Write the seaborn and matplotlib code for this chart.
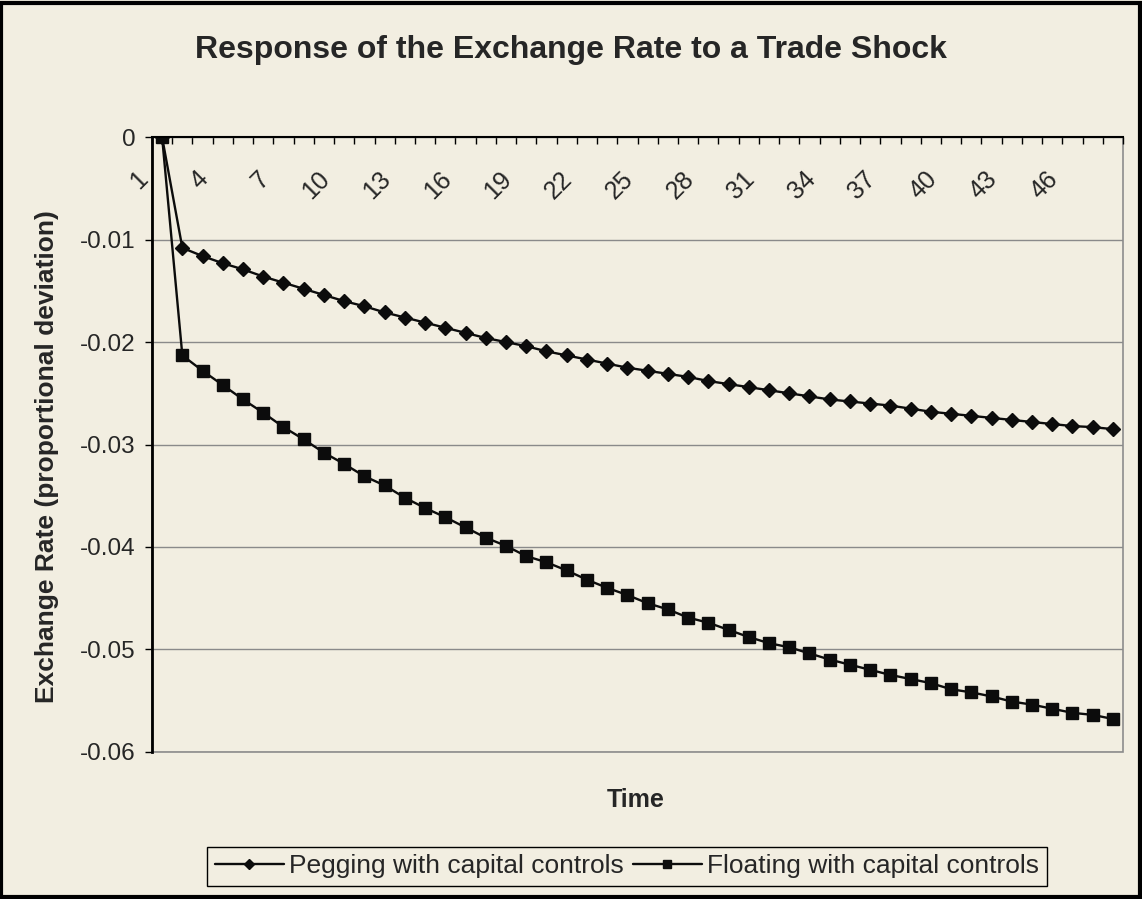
import matplotlib.pyplot as plt
import matplotlib.transforms as mtransforms
import numpy as np
import seaborn as sns
from matplotlib.lines import Line2D
from matplotlib.patches import Rectangle

# Values (proportional deviation per period)
periods = list(range(1, 49))
pegging = [
    0.0, -0.0108, -0.0116, -0.0123, -0.0129, -0.0136, -0.0142, -0.0148,
    -0.0154, -0.0160, -0.0165, -0.0171, -0.0176, -0.0181, -0.0186, -0.0191,
    -0.0196, -0.0200, -0.0204, -0.0209, -0.0213, -0.0217, -0.0221, -0.0225,
    -0.0228, -0.0231, -0.0234, -0.0238, -0.0241, -0.0244, -0.0247, -0.0250,
    -0.0253, -0.0256, -0.0258, -0.0260, -0.0262, -0.0265, -0.0268, -0.0270,
    -0.0272, -0.0274, -0.0276, -0.0278, -0.0280, -0.0282, -0.0283, -0.0285,
]
floating = [
    0.0, -0.0213, -0.0228, -0.0242, -0.0256, -0.0269, -0.0283, -0.0295,
    -0.0308, -0.0319, -0.0331, -0.0340, -0.0352, -0.0362, -0.0371, -0.0381,
    -0.0391, -0.0399, -0.0409, -0.0415, -0.0423, -0.0432, -0.0440, -0.0447,
    -0.0455, -0.0461, -0.0469, -0.0474, -0.0481, -0.0488, -0.0494, -0.0498,
    -0.0504, -0.0510, -0.0515, -0.0520, -0.0525, -0.0529, -0.0533, -0.0539,
    -0.0542, -0.0546, -0.0551, -0.0554, -0.0558, -0.0562, -0.0564, -0.0568,
]
series_names = ["Pegging with capital controls", "Floating with capital controls"]
series_markers = ["D", "s"]
x_tick_positions = list(range(1, 47, 3))
x_tick_labels = [str(p) for p in x_tick_positions]
y_ticks = [0.0, -0.01, -0.02, -0.03, -0.04, -0.05, -0.06]
y_tick_labels = ["0", "-0.01", "-0.02", "-0.03", "-0.04", "-0.05", "-0.06"]

BG = "#F2EEE1"
INK = "#0c0c0c"

sns.set_style("white")
plt.rcParams["font.family"] = ["Liberation Sans", "DejaVu Sans"]

fig = plt.figure(figsize=(11.42, 8.99), dpi=100, facecolor=BG)
ax = fig.add_axes([0.1331, 0.1638, 0.8503, 0.6835])
ax.set_facecolor(BG)

# Plot both series
sns.lineplot(
    x=periods, y=pegging, marker=series_markers[0], markersize=7.5, color=INK,
    markeredgecolor=INK, markeredgewidth=1, linewidth=1.7, legend=False,
    ax=ax,
)
sns.lineplot(
    x=periods, y=floating, marker=series_markers[1], markersize=8.5, color=INK,
    markeredgecolor=INK, markeredgewidth=1, linewidth=1.7, legend=False,
    ax=ax,
)

ax.set_xlim(0.5, 48.5)
ax.set_ylim(-0.06, 0)

# Category axis sits at y = 0, i.e. along the top of the plot area
ax.spines["bottom"].set_position(("data", 0))
ax.spines["bottom"].set_color("black")
ax.spines["bottom"].set_linewidth(1.5)
ax.spines["left"].set_color("black")
ax.spines["left"].set_linewidth(2)
ax.spines["top"].set_visible(False)
ax.spines["right"].set_visible(False)
ax.add_patch(Rectangle((0, 0), 1, 1, transform=ax.transAxes, fill=False,
                       edgecolor="#8c8c8c", linewidth=1.2, clip_on=False,
                       zorder=0.5))

ax.set_xticks(x_tick_positions, x_tick_labels)
ax.set_xticks(np.arange(0.5, 48.6, 1), minor=True)
ax.tick_params(axis="x", which="both", bottom=True)
ax.tick_params(axis="x", which="major", length=0, pad=21, labelsize=18,
               labelrotation=45)
ax.tick_params(axis="x", which="minor", length=5, width=1, direction="out",
               color="black")
for label in ax.get_xticklabels():
    label.set_horizontalalignment("right")
    label.set_verticalalignment("top")
    label.set_transform(label.get_transform() + mtransforms.ScaledTranslation(
        -7 / 72, 0, fig.dpi_scale_trans))

ax.set_yticks(y_ticks, y_tick_labels)
ax.tick_params(axis="y", left=True, length=5, width=1, direction="out",
               color="black", labelsize=17.5, pad=7)
ax.yaxis.grid(True, color="#8a8a8a", linewidth=1)
ax.xaxis.grid(False)
ax.set_xlabel("")
ax.set_ylabel("")

# Titles and axis labels
fig.text(0.5, 0.944, "Response of the Exchange Rate to a Trade Shock",
         ha="center", va="center", fontsize=23, fontweight="bold")
fig.text(47 / 1142, 1 - 457 / 899, "Exchange Rate (proportional deviation)",
         ha="center", va="center", rotation=90, fontsize=19, fontweight="bold")
fig.text(636 / 1142, 1 - 800 / 899, "Time", ha="center", va="center",
         fontsize=18, fontweight="bold")

# Legend under the chart (proxy handles with smaller markers)
handles = [
    Line2D([], [], color=INK, linewidth=1.7, marker=m, markersize=ms,
           markeredgecolor=INK)
    for m, ms in zip(series_markers, [5.5, 6])
]
fig.legend(
    handles, series_names, loc="center",
    bbox_to_anchor=(627 / 1142, 1 - 866.5 / 899),
    ncol=2, frameon=True, fancybox=False, edgecolor="black", facecolor=BG,
    framealpha=1, fontsize=19, handlelength=2.6, handletextpad=0.2,
    columnspacing=0.35, borderpad=0.3,
)

# Outer chart border
fig.patches.append(Rectangle((0.001, 0.002), 0.997, 0.995,
                             transform=fig.transFigure, fill=False,
                             edgecolor="black", linewidth=3))

fig.savefig("out.png", dpi=100, facecolor=BG)
